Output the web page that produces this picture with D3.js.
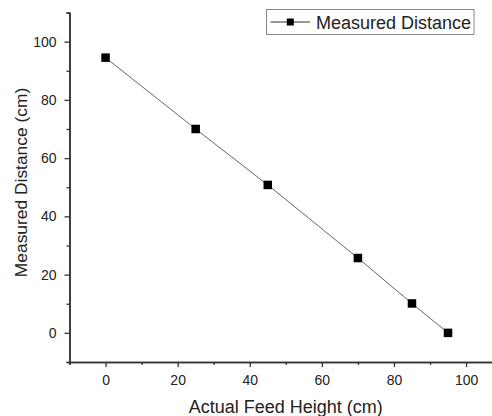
<!DOCTYPE html>
<html><head><meta charset="utf-8">
<script src="https://cdn.jsdelivr.net/npm/d3@7"></script>
<style>body{margin:0;background:#fff;overflow:hidden}svg{display:block}</style>
</head><body>
<script>
const feedHeight = [0, 25, 45, 70, 85, 95];
const measuredDistance = [94.5, 70, 50.8, 25.7, 10.1, 0];
const xTicks = [0, 20, 40, 60, 80, 100];
const yTicks = [0, 20, 40, 60, 80, 100];
const seriesName = "Measured Distance";
const xTitle = "Actual Feed Height (cm)";
const yTitle = "Measured Distance (cm)";

const W = 492, H = 416;
const svg = d3.select("body").append("svg").attr("width", W).attr("height", H);
const font = "Arial, 'Liberation Sans', sans-serif";

const x = d3.scaleLinear().domain([-10, 110]).range([69.5, 502.1]);
const y = d3.scaleLinear().domain([-10, 110]).range([362, 12.5]);

const axisColor = "#333";
// x axis
const gx = svg.append("g").attr("transform", `translate(0,${y(-10)})`);
gx.call(d3.axisBottom(x).tickValues(xTicks).tickSize(5).tickPadding(8).tickSizeOuter(0).tickFormat(d3.format("d")));
gx.append("g").call(d3.axisBottom(x).tickValues(d3.range(-10, 111, 20)).tickSize(3).tickFormat(""));
gx.selectAll("path.domain").attr("stroke", axisColor).attr("stroke-width", 1.5);
gx.selectAll("line").attr("stroke", axisColor).attr("stroke-width", 1.3);
gx.selectAll("text").attr("font-family", font).attr("font-size", 14).attr("fill", "#222");

// y axis
const gy = svg.append("g").attr("transform", `translate(${x(-10)},0)`);
gy.call(d3.axisLeft(y).tickValues(yTicks).tickSize(5).tickPadding(8).tickSizeOuter(0).tickFormat(d3.format("d")));
gy.append("g").call(d3.axisLeft(y).tickValues(d3.range(-10, 111, 20)).tickSize(3).tickFormat(""));
gy.selectAll("path.domain").attr("stroke", axisColor).attr("stroke-width", 1.5);
gy.selectAll("line").attr("stroke", axisColor).attr("stroke-width", 1.3);
gy.selectAll("text").attr("font-family", font).attr("font-size", 14).attr("fill", "#222");

// titles
svg.append("text").attr("x", 285.8).attr("y", 412.5).attr("text-anchor", "middle")
  .attr("font-family", font).attr("font-size", 18).attr("fill", "#222").text(xTitle);
svg.append("text").attr("transform", `translate(26.5,182.5) rotate(-90)`).attr("text-anchor", "middle")
  .attr("font-family", font).attr("font-size", 17.4).attr("fill", "#222").text(yTitle);

// data
const pts = feedHeight.map((d, i) => [d, measuredDistance[i]]);
svg.append("path").datum(pts)
  .attr("d", d3.line().x(d => x(d[0])).y(d => y(d[1])))
  .attr("fill", "none").attr("stroke", "#666").attr("stroke-width", 1);
const ms = 8.5;
svg.selectAll("rect.pt").data(pts).enter().append("rect").attr("class", "pt")
  .attr("x", d => x(d[0]) - ms / 2).attr("y", d => y(d[1]) - ms / 2)
  .attr("width", ms).attr("height", ms).attr("fill", "#000");

// legend
const lg = svg.append("g");
lg.append("rect").attr("x", 266.5).attr("y", 9.5).attr("width", 207.5).attr("height", 25)
  .attr("fill", "#fff").attr("stroke", "#888").attr("stroke-width", 1);
lg.append("line").attr("x1", 270.5).attr("x2", 310).attr("y1", 22).attr("y2", 22)
  .attr("stroke", "#333").attr("stroke-width", 1);
lg.append("rect").attr("x", 290.3 - 3.5).attr("y", 22 - 3.5).attr("width", 7).attr("height", 7).attr("fill", "#000");
lg.append("text").attr("x", 316).attr("y", 28.5).attr("font-family", font).attr("font-size", 18)
  .attr("fill", "#222").text(seriesName);
</script>
</body></html>
